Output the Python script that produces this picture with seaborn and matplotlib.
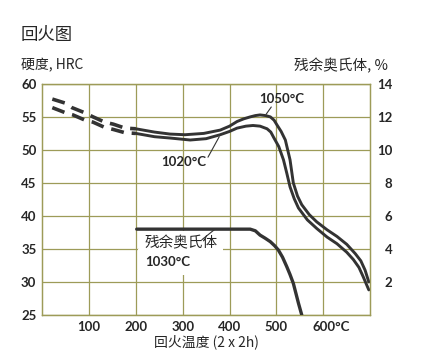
import matplotlib
matplotlib.use("Agg")
import matplotlib.pyplot as plt
import matplotlib.transforms as mtransforms
import seaborn as sns

# Daten
# Härte 1050 °C, gestrichelter Teil und durchgezogener Teil
t1050_dash = [22, 49, 64, 92, 109, 134, 152, 177, 200]
hrc1050_dash = [57.7, 57.1, 56.4, 55.6, 55.0, 54.2, 53.9, 53.3, 53.2]
t1050 = [200, 240, 273, 305, 345, 380, 400, 416, 430, 444, 455, 465, 477, 487,
         495, 501, 510, 519, 529, 536, 545, 554, 570, 586, 608, 629, 650, 668,
         680, 689, 697]
hrc1050 = [53.2, 52.7, 52.4, 52.3, 52.5, 53.0, 53.6, 54.3, 54.7, 55.0, 55.2,
           55.3, 55.2, 55.0, 54.5, 53.8, 52.8, 51.5, 48.5, 45.0, 43.0, 41.7,
           40.2, 39.1, 37.9, 36.9, 35.7, 34.3, 33.2, 31.8, 30.0]

# Härte 1020 °C
t1020_dash = [22, 51, 66, 92, 109, 134, 152, 177, 200]
hrc1020_dash = [56.4, 55.6, 55.3, 54.5, 54.2, 53.4, 53.1, 52.6, 52.5]
t1020 = [200, 240, 273, 316, 350, 380, 400, 416, 435, 450, 465, 480, 488, 494,
         505, 515, 522, 529, 538, 547, 566, 586, 608, 629, 650, 664, 676, 685,
         697]
hrc1020 = [52.5, 52.0, 51.8, 51.5, 51.7, 52.3, 52.8, 53.3, 53.6, 53.7, 53.6,
           53.2, 52.7, 51.9, 50.5, 48.5, 46.5, 44.4, 42.6, 41.2, 39.4, 38.1,
           36.8, 35.8, 34.5, 33.4, 32.2, 30.8, 28.8]

# Restaustenit 1030 °C in %
t_ra = [202, 300, 400, 444, 455, 465, 476, 487, 496, 504, 513, 522, 529, 536,
        547, 554]
ra = [5.2, 5.2, 5.2, 5.2, 5.1, 4.84, 4.65, 4.44, 4.2, 3.94, 3.5, 2.93, 2.45,
      1.92, 0.71, 0.0]

xticks = [100, 200, 300, 400, 500, 600]
xticklabels = ["100", "200", "300", "400", "500", "600°C"]
yticks = [25, 30, 35, 40, 45, 50, 55, 60]
y2ticks = [2, 4, 6, 8, 10, 12, 14]

sns.set_style("white")
plt.rcParams['font.family'] = ['Noto Sans CJK SC', 'DejaVu Sans']

gridfarbe = "#9d9b58"
linienfarbe = "#333333"
zahlfont = dict(family=["Lato", "DejaVu Sans"], weight="bold", size=9.5)

fig, ax = plt.subplots(figsize=(4.33, 3.6), dpi=100)
fig.subplots_adjust(left=0.097, right=0.855, top=0.767, bottom=0.125)
ax2 = ax.twinx()

# Kurven
for xs, ys in [(t1050_dash, hrc1050_dash), (t1020_dash, hrc1020_dash)]:
    sns.lineplot(x=xs, y=ys, ax=ax, color=linienfarbe, lw=2.6, sort=False,
                 linestyle=(0, (3.6, 2.2)), zorder=3)
for xs, ys in [(t1050, hrc1050), (t1020, hrc1020)]:
    sns.lineplot(x=xs, y=ys, ax=ax, color=linienfarbe, lw=2.1, sort=False,
                 zorder=3)
sns.lineplot(x=t_ra, y=ra, ax=ax2, color=linienfarbe, lw=2.4, sort=False,
             zorder=3)

# Achsen
ax.set_xlim(0, 700)
ax.set_ylim(25, 60)
ax2.set_ylim(0, 14)
ax.set_xticks(xticks)
ax.set_xticklabels(xticklabels, fontdict=zahlfont)
ax.set_yticks(yticks)
ax.set_yticklabels([str(v) for v in yticks], fontdict=zahlfont)
ax2.set_yticks(y2ticks)
ax2.set_yticklabels([str(v) for v in y2ticks], fontdict=zahlfont)
ax.tick_params(length=0, pad=4)
ax2.tick_params(length=0, pad=16)
for lab in ax2.get_yticklabels():
    lab.set_ha("right")
# "600°C": die Zahl soll mittig auf der Linie stehen
lab600 = ax.get_xticklabels()[-1]
lab600.set_ha("left")
lab600.set_transform(lab600.get_transform() +
                     mtransforms.ScaledTranslation(-11 / 100, 0, fig.dpi_scale_trans))

ax.grid(True, color=gridfarbe, lw=0.9)
ax.set_axisbelow(True)
ax2.grid(False)
for a in (ax, ax2):
    for s in a.spines.values():
        s.set_color(gridfarbe)
        s.set_linewidth(0.9)

ax.set_xlabel("回火温度 (2 x 2h)", fontsize=10, labelpad=1)
ax.set_ylabel("")
ax2.set_ylabel("")

# Beschriftungen
ax.text(512, 57.7, "1050°C", ha="center", va="center", fontdict=zahlfont)
ax.plot([489, 478], [56.5, 55.4], color=linienfarbe, lw=0.8)
ax.text(302, 48.2, "1020°C", ha="center", va="center", fontdict=zahlfont)
ax.plot([354, 378], [48.9, 52.0], color=linienfarbe, lw=0.8)

ax.text(218, 35.8, "残余奥氏体", ha="left", va="center", fontsize=10.5, zorder=1.5,
        bbox=dict(facecolor="white", edgecolor="none", pad=4))
ax.text(220, 33.0, "1030°C", ha="left", va="center", fontdict=zahlfont, zorder=1.5,
        bbox=dict(facecolor="white", edgecolor="none", pad=5))
ax.plot([341, 369], [36.4, 38.0], color=linienfarbe, lw=0.8, zorder=3)

fig.text(21 / 433, 1 - 35 / 360, "回火图", fontsize=12.5, va="center", ha="left")
fig.text(21 / 433, 1 - 65 / 360, "硬度, HRC", fontsize=10, va="center", ha="left")
fig.text(388 / 433, 1 - 66 / 360, "残余奥氏体, %", fontsize=10.5, va="center", ha="right")

plt.savefig("out.png", dpi=100)
